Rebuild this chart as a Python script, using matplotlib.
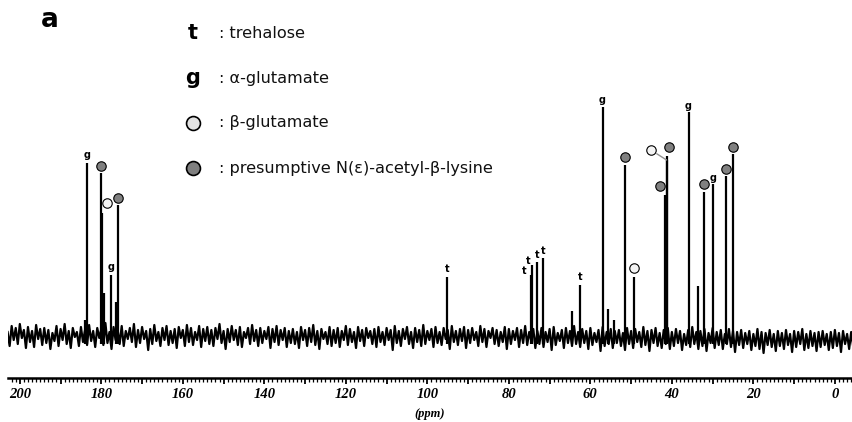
import numpy as np
import matplotlib.pyplot as plt
from matplotlib.ticker import MultipleLocator, FuncFormatter
from matplotlib.transforms import offset_copy

# 13C NMR spectrum, chemical shift (ppm) -- baseline noise
noise_start, noise_step = 203.0, 0.5
noise = [
    8, -6, 14, 0, 12, -4, 16, 2, 10, -8, 13, -2, 9, -7, 15, 1, 11, -5, 12, -3,
    10, -9, 7, -1, 14, -6, 11, 0, 16, -4, 9, -8, 12, 3, 8, -6, 13, -2, 10, -5,
    15, -1, 9, -7, 12, 2, 11, -5, 17, -3, 8, -9, 13, 0, 10, -4, 14, -6, 9, 1,
    12, -2, 16, -7, 10, -3, 13, 1, 9, -10, 11, -4, 15, -1, 8, -6, 12, 0, 14, -5,
    9, -3, 11, -8, 13, 2, 10, -6, 15, -2, 12, -5, 8, 0, 14, -7, 11, -1, 13, -4,
    10, -6, 12, 1, 16, -3, 9, -9, 11, -2, 14, 0, 10, -5, 13, -7, 8, 2, 12, -4,
    15, -1, 10, -6, 12, -3, 9, 1, 13, -8, 11, -2, 14, -5, 10, 0, 12, -7, 9, -3,
    11, -4, 8, -8, 13, 0, 10, -6, 12, -2, 15, -5, 9, -9, 11, 1, 8, -4, 13, -6,
    10, -3, 12, -7, 9, 0, 14, -5, 11, -2, 8, -8, 13, -1, 10, -6, 12, 2, 9, -4,
    11, -7, 13, -2, 8, -5, 12, 0, 10, -10, 14, -3, 9, -6, 11, 1, 13, -4, 8, -8,
    12, -2, 10, -6, 15, -4, 9, 0, 11, -7, 13, -3, 8, -5, 12, 1, 10, -9, 14, -2,
    9, -5, 11, -1, 13, -8, 10, -3, 12, 0, 8, -6, 14, -2, 11, -7, 9, 2, 12, -4,
    10, -6, 8, -2, 13, -9, 11, -4, 9, 0, 12, -7, 10, -3, 14, -5, 8, -1, 11, -8,
    9, -4, 12, -7, 8, -2, 11, -10, 13, -5, 7, -1, 10, -8, 12, -3, 9, -6, 14, -4,
    8, -7, 11, -3, 9, -9, 12, -5, 7, -2, 10, -11, 13, -6, 8, -4, 11, -8, 9, -3,
    10, -6, 7, -10, 12, -4, 9, -8, 11, -2, 8, -7, 13, -5, 9, -11, 10, -3, 12, -6,
    7, -8, 10, -4, 12, -9, 8, -6, 11, -3, 9, -10, 6, -5, 10, -7, 13, -4, 8, -9,
    9, -6, 11, -11, 7, -3, 12, -8, 8, -5, 10, -9, 6, -4, 11, -7, 9, -12, 8, -5,
    10, -8, 7, -4, 9, -10, 6, -6, 11, -9, 8, -13, 7, -5, 10, -7, 6, -11, 9, -6,
    7, -9, 10, -5, 6, -12, 9, -7, 8, -4, 11, -10, 6, -8, 9, -6, 7, -11, 8, -7,
    9, -5, 6, -10, 8, -8, 10, -6, 7, -12, 9, -4, 6, -9, 8, -7, 10, -5, 7, -8,
]

# resonance lines: position (ppm) and height (same units as noise)
peak_ppm = [183.9, 183.5, 180.2, 179.8, 179.3, 177.7, 176.4, 175.8, 95.1,
            74.6, 74.2, 73.1, 71.6, 64.5, 62.6, 57.0, 55.6, 54.2, 51.4, 49.2,
            41.6, 41.3, 41.1, 35.9, 33.7, 32.0, 29.8, 26.7, 24.9]
peak_height = [20, 177, 167, 127, 47, 65, 38, 135, 63,
               65, 75, 78, 82, 29, 55, 233, 31, 20, 175, 63,
               145, 180, 184, 228, 54, 148, 156, 164, 186]

# assignments: which line, which compound
label_at = [183.5, 180.2, 179.8, 177.7, 175.8, 95.1, 74.6, 74.2, 73.1, 71.6,
            62.6, 57.0, 51.4, 49.2, 41.6, 41.3, 41.1, 35.9, 32.0, 29.8, 26.7, 24.9]
label_kind = ['g', 'lys', 'beta', 'g', 'lys', 't', 't', 't', 't', 't',
              't', 'g', 'lys', 'beta', 'lys', 'beta', 'lys', 'g', 'lys', 'g', 'lys', 'lys']

legend_keys = ['t', 'g', 'beta', 'lys']
legend_text = [': trehalose', ': \u03b1-glutamate', ': \u03b2-glutamate',
               ': presumptive N(\u03b5)-acetyl-\u03b2-lysine']

# label offsets in pixels (dx, dy up) -- layout only
label_off = [(0, 8), (0, 7), (4.4, 10), (0, 8), (0, 7), (0, 8), (-7, 4), (-4, 4),
             (0, 7), (0, 7), (0, 8), (0, 7), (0, 8), (0, 9), (-5.5, 9), (-15.7, 10),
             (1.5, 9), (0, 6), (0, 8), (0, 6), (0, 7), (0, 7)]

circle_style = {'lys': dict(mfc='#808080', mec='black'),
                'beta': dict(mfc='#f4f4f4', mec='black')}

W, H = 852, 422
fig = plt.figure(figsize=(W / 100, H / 100), dpi=100)
ax = fig.add_axes([8 / W, (H - 378) / H, 1 - 8 / W, 288 / H])

ppm = noise_start - noise_step * np.arange(len(noise))
ax.plot(ppm, noise, color='black', lw=1.6)
ax.vlines(peak_ppm, -4, peak_height, color='black', lw=1.6)

heights = dict(zip(peak_ppm, peak_height))
for x, kind, (dx, dy) in zip(label_at, label_kind, label_off):
    y = heights[x]
    if kind in ('t', 'g'):
        ax.annotate(kind, (x, y), xytext=(dx, dy), textcoords='offset pixels',
                    ha='center', va='center', fontsize=7, fontweight='bold')
    else:
        tr = offset_copy(ax.transData, fig=fig, x=dx, y=dy, units='dots')
        ax.plot([x], [y], 'o', transform=tr, ms=6.8, mew=0.8, clip_on=False,
                **circle_style[kind])
        if dx < -10:
            ax.annotate('', (x, y), xytext=(dx, dy), textcoords='offset pixels',
                        arrowprops=dict(arrowstyle='-', color='#909090', lw=1,
                                        shrinkA=5, shrinkB=0))

ax.set_xlim(202.9, -4.2)
ax.set_ylim(-38, 250)
for s in ['top', 'left', 'right']:
    ax.spines[s].set_visible(False)
ax.spines['bottom'].set_linewidth(1.8)
ax.set_yticks([])
ax.xaxis.set_major_locator(MultipleLocator(10))
ax.xaxis.set_minor_locator(MultipleLocator(1))
ax.xaxis.set_major_formatter(FuncFormatter(lambda v, p: '%d' % v if round(v) % 20 == 0 else ''))
ax.tick_params(axis='x', which='major', length=4.5, width=1.3, pad=2.5)
ax.tick_params(axis='x', which='minor', length=3, width=0.9)
for lab in ax.get_xticklabels():
    lab.set_fontfamily('Liberation Serif')
    lab.set_fontstyle('italic')
    lab.set_fontweight('bold')
    lab.set_fontsize(10.5)
ax.set_xlabel('(ppm)', fontfamily='Liberation Serif', fontstyle='italic',
              fontweight='bold', fontsize=9, labelpad=5)

# panel letter and key
fig.text(50 / W, 1 - 20 / H, 'a', fontsize=19, fontweight='bold', ha='center', va='center')
for i, (k, txt) in enumerate(zip(legend_keys, legend_text)):
    yy = 1 - (33 + 45 * i) / H
    if k in ('t', 'g'):
        fig.text(193 / W, yy, k, fontsize=15, fontweight='bold', ha='center', va='center')
    else:
        fig.lines.append(plt.Line2D([193 / W], [yy], marker='o', ms=10, mew=1.2,
                                    transform=fig.transFigure,
                                    **dict(circle_style[k], mfc='#e2e2e2' if k == 'beta' else '#808080')))
    fig.text(219 / W, yy, txt, fontsize=11.6, ha='left', va='center', color='#111111')

fig.savefig('out.png', dpi=100)
